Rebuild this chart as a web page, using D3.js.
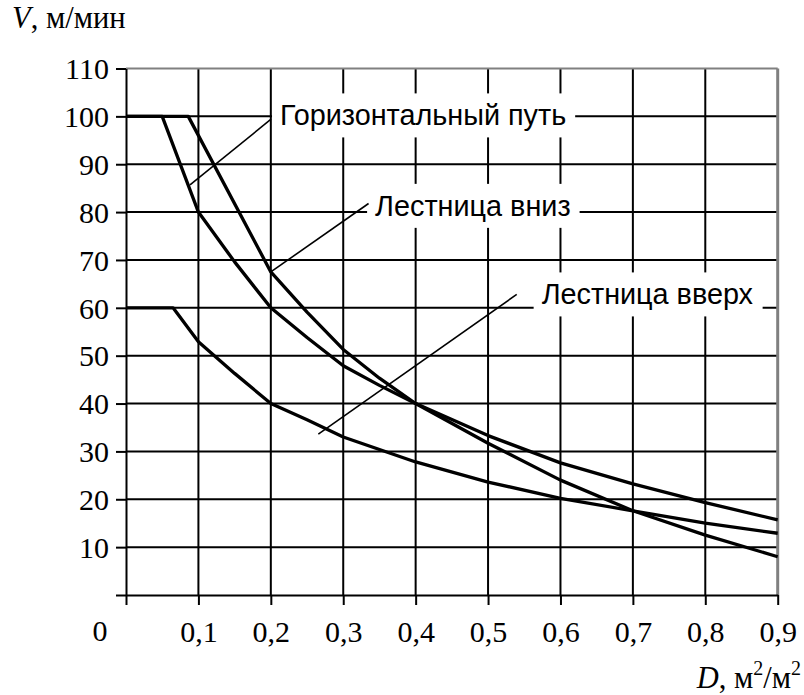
<!DOCTYPE html>
<html><head><meta charset="utf-8">
<script src="https://cdn.jsdelivr.net/npm/d3@7"></script>
<style>body{margin:0;background:#fff}svg{display:block}</style>
</head><body>
<svg id="c" width="804" height="695"></svg>
<script>
// ---- data ----
const xTicks = [0.1,0.2,0.3,0.4,0.5,0.6,0.7,0.8,0.9];
const xTickLabels = ["0,1","0,2","0,3","0,4","0,5","0,6","0,7","0,8","0,9"];
const yTicks = [10,20,30,40,50,60,70,80,90,100,110];
const yTickLabels = ["10","20","30","40","50","60","70","80","90","100","110"];

const horizD = [0, 0.05, 0.1, 0.15, 0.2, 0.25, 0.3, 0.35, 0.4, 0.5, 0.6, 0.7, 0.8, 0.9];
const horizV = [100, 100, 80, 69.6, 60, 53.8, 47.9, 43.8, 40, 33.3, 27.6, 23.2, 19.3, 15.7];

const downD = [0, 0.086, 0.2, 0.25, 0.3, 0.35, 0.4, 0.5, 0.6, 0.7, 0.8, 0.9];
const downV = [100, 100, 67.5, 59.1, 51.3, 45.3, 40, 31.7, 24, 17.6, 12.5, 8];

const upD = [0, 0.065, 0.1, 0.15, 0.2, 0.25, 0.3, 0.4, 0.5, 0.6, 0.7, 0.8, 0.9];
const upV = [60, 60, 52.9, 46.3, 40, 36.6, 33, 27.8, 23.6, 20.2, 17.6, 15, 12.9];

const labelTexts = ["Горизонтальный путь", "Лестница вниз", "Лестница вверх"];
const labelAnchorD = [0.2127, 0.344, 0.574];
const labelAnchorV = [100.2, 81.3, 62.8];
const leaderFromD = [0.0884, 0.2, 0.2656];
const leaderFromV = [85.7, 67.5, 33.6];
const leaderToD = [0.2003, 0.335, 0.5396];
const leaderToV = [99.4, 81.8, 62.8];

// ---- layout ----
const svg = d3.select("#c");
const x = d3.scaleLinear().domain([0, 0.9]).range([126, 777.7]);
const y = d3.scaleLinear().domain([0, 110]).range([595, 68.5]);
const serif = "Liberation Serif, Times New Roman, serif";
const sans = "Liberation Sans, Arial, sans-serif";

// grid
const g = svg.append("g");
g.selectAll("line.vg").data(xTicks.slice(0, -1)).join("line")
  .attr("x1", d => x(d)).attr("x2", d => x(d)).attr("y1", y(0)).attr("y2", y(110))
  .attr("stroke", "#000").attr("stroke-width", 2);
g.selectAll("line.hg").data(yTicks.slice(0, -1)).join("line")
  .attr("x1", x(0)).attr("x2", x(0.9)).attr("y1", d => y(d)).attr("y2", d => y(d))
  .attr("stroke", "#000").attr("stroke-width", 2);
// top/right frame (grey)
svg.append("line").attr("x1", x(0)).attr("x2", x(0.9)).attr("y1", y(110)).attr("y2", y(110))
  .attr("stroke", "#808080").attr("stroke-width", 2);
svg.append("line").attr("x1", x(0.9)).attr("x2", x(0.9)).attr("y1", y(110)).attr("y2", y(0))
  .attr("stroke", "#808080").attr("stroke-width", 3);

// axes
const yAxis = d3.axisLeft(y).tickValues([0].concat(yTicks))
  .tickFormat(d => d === 0 ? "" : yTickLabels[yTicks.indexOf(d)])
  .tickSize(10).tickSizeOuter(0).tickPadding(8);
const ya = svg.append("g").attr("transform", `translate(${x(0)},0)`).call(yAxis);
const xAxis = d3.axisBottom(x).tickValues([0].concat(xTicks))
  .tickFormat(d => d === 0 ? "" : xTickLabels[xTicks.indexOf(d)])
  .tickSize(10).tickSizeOuter(0).tickPadding(14);
const xa = svg.append("g").attr("transform", `translate(0,${y(0)})`).call(xAxis);
[ya, xa].forEach(a => {
  a.attr("font-family", serif).attr("font-size", 30);
  a.select(".domain").attr("stroke", "#000").attr("stroke-width", 2);
  a.selectAll(".tick line").attr("stroke", "#000").attr("stroke-width", 2);
  a.selectAll(".tick text").attr("fill", "#000").attr("font-family", serif).attr("font-size", 30);
});
ya.selectAll(".tick text").attr("dy", "0.34em").attr("x", -17);
xa.selectAll(".tick text").attr("dy", "0.78em");
svg.append("text").attr("x", 100).attr("y", 641).attr("text-anchor", "middle")
  .attr("font-family", serif).attr("font-size", 30).text("0");

// curves
const line = d3.line().x(d => x(d[0])).y(d => y(d[1]));
[[horizD, horizV], [downD, downV], [upD, upV]].forEach(([ds, vs]) => {
  svg.append("path").datum(ds.map((d, i) => [d, vs[i]]))
    .attr("d", line).attr("fill", "none").attr("stroke", "#000")
    .attr("stroke-width", 3.3).attr("stroke-linejoin", "round");
});

// labels with white boxes
labelTexts.forEach((t, i) => {
  const lg = svg.append("g");
  const rect = lg.append("rect").attr("fill", "#fff");
  const tx = lg.append("text").attr("x", x(labelAnchorD[i])).attr("y", y(labelAnchorV[i]))
    .attr("dy", "0.35em").attr("font-family", sans).attr("font-size", 28.8).text(t);
  const bb = tx.node().getBBox();
  rect.attr("x", bb.x - 8).attr("width", bb.width + 17)
    .attr("y", y(labelAnchorV[i]) - 22).attr("height", 44);
});
// leader lines
labelTexts.forEach((t, i) => {
  svg.append("line")
    .attr("x1", x(leaderFromD[i])).attr("y1", y(leaderFromV[i]))
    .attr("x2", x(leaderToD[i])).attr("y2", y(leaderToV[i]))
    .attr("stroke", "#000").attr("stroke-width", 1.6);
});

// axis titles
const vt = svg.append("text").attr("x", 12).attr("y", 28)
  .attr("font-family", serif).attr("font-size", 30.5);
vt.append("tspan").attr("font-style", "italic").text("V");
vt.append("tspan").text(", м/мин");

const dt = svg.append("text").attr("x", 801).attr("y", 688).attr("text-anchor", "end")
  .attr("font-family", serif).attr("font-size", 30.5);
dt.append("tspan").attr("font-style", "italic").text("D");
dt.append("tspan").text(", м");
dt.append("tspan").attr("dy", -13).attr("font-size", 20).text("2");
dt.append("tspan").attr("dy", 13).text("/м");
dt.append("tspan").attr("dy", -13).attr("font-size", 20).text("2");
</script>
</body></html>
